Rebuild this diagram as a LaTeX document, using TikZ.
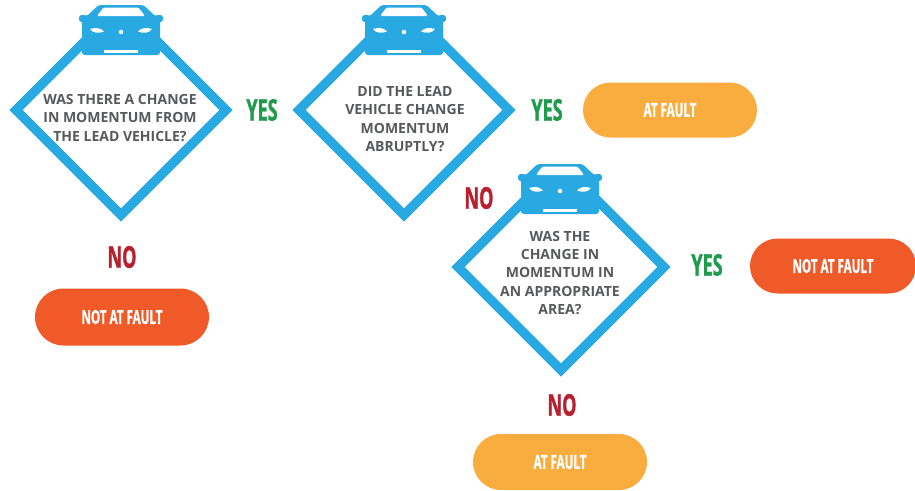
\documentclass[tikz,border=0pt]{standalone}
\usepackage{fontspec}
\setmainfont{Open Sans}
\newfontfamily\condfont{Open Sans}[FakeStretch=0.6, FakeBold=1]
\usetikzlibrary{shapes.geometric,shapes.misc}
\definecolor{dblue}{HTML}{29A9E1}
\definecolor{qgray}{HTML}{58595B}
\definecolor{yesgreen}{HTML}{1E9B4B}
\definecolor{nored}{HTML}{B7202E}
\definecolor{faultorange}{HTML}{F9AD3F}
\definecolor{notred}{HTML}{F05A28}
\tikzset{
  qdiamond/.style={diamond, draw=dblue, fill=white, line width=7.1pt, line join=miter,
    minimum width=160.5pt, minimum height=160.5pt, inner sep=0pt, aspect=1},
  qtext/.style={text=qgray, font=\bfseries\fontsize{10.5}{13.7}\selectfont, align=center, inner sep=0pt},
  yeslbl/.style={text=yesgreen, font=\condfont\bfseries\fontsize{22.5}{23}\selectfont, inner sep=0pt},
  nolbl/.style={text=nored, font=\condfont\bfseries\fontsize{22.5}{23}\selectfont, inner sep=0pt},
  pill/.style={rounded rectangle, minimum width=130.5pt, minimum height=41.25pt, inner sep=0pt,
    text=white, font=\condfont\bfseries\fontsize{14.5}{15}\selectfont},
  faultpill/.style={pill, fill=faultorange},
  notpill/.style={pill, fill=notred},
  car/.pic={
    \fill[dblue, rounded corners=2pt] (-22.5,0) -- (22.5,0) -- (34,11) -- (39,11) -- (39,50) -- (-39,50) -- (-39,11) -- (-34,11) -- cycle;
    \fill[dblue, rounded corners=2pt] (-42,10) rectangle (-34,17);
    \fill[dblue, rounded corners=2pt] (34,10) rectangle (42,17);
    \fill[white, rounded corners=1pt] (-17.5,2.5) -- (17.5,2.5) -- (24,11) -- (-24,11) -- cycle;
    \fill[white] (-31,24) .. controls (-25,22) and (-20,23) .. (-17,26.5) .. controls (-22,28.5) and (-28,28.5) .. cycle;
    \fill[white] (31,24) .. controls (25,22) and (20,23) .. (17,26.5) .. controls (22,28.5) and (28,28.5) .. cycle;
    \fill[white] (0,27) circle[radius=1.7pt];
    \fill[white] (-17,45) rectangle (17,47.5);
  }
}
\begin{document}
\begin{tikzpicture}[x=0.75pt,y=-0.75pt]
\useasboundingbox[fill=white] (0,0) rectangle (915,490);

% diamonds (top corner hidden under the car)
\begin{scope}
  \clip (0,8) rectangle (915,240);
  \node[qdiamond] (d1) at (121,110) {};
  \node[qdiamond] (d2) at (404,110) {};
\end{scope}
\begin{scope}
  \clip (430,167) rectangle (700,400);
  \node[qdiamond, minimum width=157.5pt, minimum height=157.5pt] (d3) at (561,267) {};
\end{scope}

% cars
\pic at (121,5) {car};
\pic at (404,5) {car};
\pic at (560,164) {car};

% question texts
\node[qtext] (t1) at (120,118) {WAS THERE A CHANGE\\IN MOMENTUM FROM\\THE LEAD VEHICLE?};
\node[qtext] (t2) at (405,119) {DID THE LEAD\\VEHICLE CHANGE\\MOMENTUM\\ABRUPTLY?};
\node[qtext] (t3) at (560,273) {WAS THE\\CHANGE IN\\MOMENTUM IN\\AN APPROPRIATE\\AREA?};

% yes / no labels
\node[yeslbl] (y1) at (262,110) {YES};
\node[yeslbl] (y2) at (547,110) {YES};
\node[yeslbl] (y3) at (707,265) {YES};
\node[nolbl] (n1) at (122,257) {NO};
\node[nolbl] (n2) at (479,198) {NO};
\node[nolbl] (n3) at (562,405) {NO};

% outcome pills
\node[faultpill] (p1) at (670,110) {AT FAULT};
\node[notpill, minimum width=124.5pt] (p2) at (833,266) {NOT AT FAULT};
\node[notpill, minimum height=42.75pt] (p3) at (122,317) {NOT AT FAULT};
\node[faultpill, minimum height=42pt] (p4) at (560,462) {AT FAULT};
\end{tikzpicture}
\end{document}
